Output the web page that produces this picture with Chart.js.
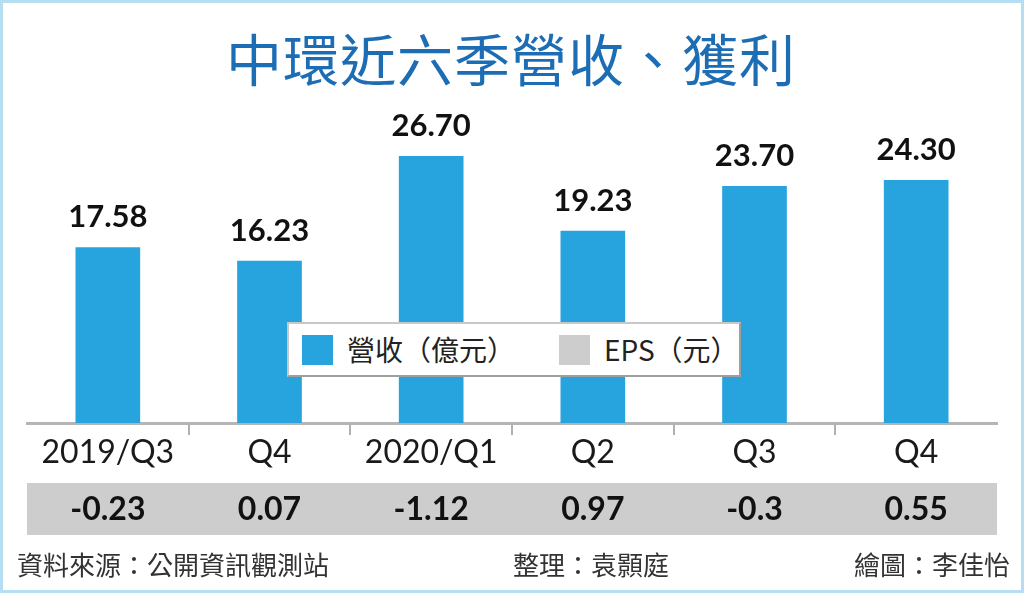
<!DOCTYPE html>
<html lang="zh-Hant">
<head>
<meta charset="utf-8">
<title>中環近六季營收、獲利</title>
<script src="https://cdn.jsdelivr.net/npm/chart.js@4.4.1/dist/chart.umd.min.js"></script>
<style>
  html, body { margin: 0; padding: 0; background: #ffffff; }
  #wrap { position: relative; width: 1024px; height: 593px; overflow: hidden; background: #fff; }
  #wrap::after {
    content: ""; position: absolute; left: 0; top: 0; right: 0; bottom: 0;
    border: 3px solid #b6def3; pointer-events: none;
  }
  canvas { position: absolute; left: 0; top: 0; }
  #title {
    position: absolute; left: 0; width: 1022px; top: 27px; text-align: center;
    font-family: "Noto Sans CJK TC", "Noto Sans", sans-serif; font-weight: 400;
    font-size: 56px; line-height: 60px; color: #1d6db5; letter-spacing: 1px;
  }
  #legend {
    position: absolute; left: 287px; top: 322px; width: 450px; height: 51px;
    background: #fff; border: 2px solid #9f9f9f; border-top-color: #c8c8c8; border-left-color: #c8c8c8;
    font-family: "Noto Sans CJK TC", sans-serif; font-size: 28px; color: #222;
  }
  #legend .item { position: absolute; top: 0; height: 51px; line-height: 51px; white-space: nowrap; }
  #legend .box { display: inline-block; width: 31px; height: 30px; vertical-align: -4px; margin-right: 14px; }
  .foot {
    position: absolute; top: 547px; line-height: 34px; white-space: nowrap;
    font-family: "Noto Sans CJK TC", sans-serif; font-size: 26px; color: #333;
  }
</style>
</head>
<body>
<div id="wrap">
  <canvas id="revenueChart" width="1024" height="593"></canvas>
  <div id="title">中環近六季營收、獲利</div>
  <div id="legend"></div>
  <div class="foot" style="left:17px">資料來源：公開資訊觀測站</div>
  <div class="foot" style="left:513px">整理：袁顥庭</div>
  <div class="foot" style="right:14px">繪圖：李佳怡</div>
</div>

<script>
// 季度 / 營收 / EPS 資料
const quarters = ["2019/Q3", "Q4", "2020/Q1", "Q2", "Q3", "Q4"];
const revenue = [17.58, 16.23, 26.70, 19.23, 23.70, 24.30];
const eps = [-0.23, 0.07, -1.12, 0.97, -0.3, 0.55];
const revenueLabels = ["17.58", "16.23", "26.70", "19.23", "23.70", "24.30"];
const epsLabels = ["-0.23", "0.07", "-1.12", "0.97", "-0.3", "0.55"];

const barColor = "#27a4de";
const epsColor = "#cdcdcd";

// 圖例 (HTML)
function renderLegend() {
  const legend = document.getElementById("legend");
  legend.innerHTML = `
    <span class="item" style="left:13px"><span class="box" style="background:${barColor}"></span>營收（億元）</span>
    <span class="item" style="left:270px"><span class="box" style="background:${epsColor}"></span>EPS（元）</span>
  `;
}

// 長條上方數值
const valueLabelPlugin = {
  id: "valueLabels",
  afterDatasetsDraw(chart) {
    const { ctx } = chart;
    const meta = chart.getDatasetMeta(0);
    ctx.save();
    ctx.fillStyle = "#111";
    ctx.font = "bold 31px Lato, 'Noto Sans', sans-serif";
    ctx.textAlign = "center";
    ctx.textBaseline = "alphabetic";
    meta.data.forEach((bar, i) => {
      ctx.fillText(revenueLabels[i], bar.x, bar.y - 20);
    });
    ctx.restore();
  }
};

// EPS 灰色列
const epsRowPlugin = {
  id: "epsRow",
  afterDraw(chart) {
    const { ctx, chartArea } = chart;
    const x = chart.scales.x;
    ctx.save();
    ctx.fillStyle = epsColor;
    ctx.fillRect(chartArea.left, 483, chartArea.right - chartArea.left, 52);
    ctx.fillStyle = "#111";
    ctx.font = "bold 32px Lato, 'Noto Sans', sans-serif";
    ctx.textAlign = "center";
    ctx.textBaseline = "middle";
    eps.forEach((v, i) => {
      ctx.fillText(epsLabels[i], x.getPixelForValue(i), 510);
    });
    ctx.restore();
  }
};

function createRevenueChart() {
  const ctx = document.getElementById("revenueChart");
  if (!ctx) return;

  new Chart(ctx, {
    type: "bar",
    data: {
      labels: quarters,
      datasets: [{
        label: "營收（億元）",
        data: revenue,
        backgroundColor: barColor,
        borderWidth: 0,
        categoryPercentage: 1,
        barPercentage: 0.4
      }]
    },
    options: {
      responsive: false,
      animation: false,
      layout: {
        padding: { left: 27, right: 27, top: 123, bottom: 123 }
      },
      plugins: {
        legend: { display: false },
        tooltip: { enabled: false }
      },
      scales: {
        x: {
          offset: true,
          afterFit(scale) { scale.height = 47; },
          border: { display: true, color: "#b5b5b5", width: 3 },
          grid: {
            offset: true,
            drawOnChartArea: false,
            drawTicks: true,
            tickLength: 12,
            lineWidth: 2,
            color: (c) => (c.type !== "tick" || c.index === 0) ? "rgba(0,0,0,0)" : "#b0b0b0"
          },
          ticks: {
            color: "#1a1a1a",
            padding: -2,
            font: { family: "Lato, 'Noto Sans', sans-serif", size: 32 },
            maxRotation: 0,
            autoSkip: false
          }
        },
        y: {
          display: false,
          min: 0,
          max: 30
        }
      }
    },
    plugins: [valueLabelPlugin, epsRowPlugin]
  });
}

window.addEventListener("DOMContentLoaded", () => {
  renderLegend();
  createRevenueChart();
});
</script>
</body>
</html>
